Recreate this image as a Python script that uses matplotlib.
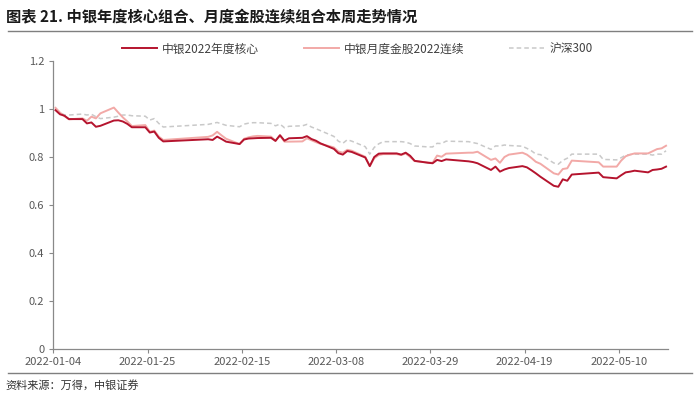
import pandas as pd
import matplotlib
matplotlib.use('Agg')
import matplotlib.pyplot as plt
import matplotlib.dates as mdates
from matplotlib.lines import Line2D
from matplotlib.ticker import FuncFormatter, MultipleLocator

plt.rcParams['font.family'] = ['Noto Sans CJK SC', 'DejaVu Sans']

# trading days (date axis, so the Spring Festival gap shows as a straight segment)
dates = (
    ['2022-01-%02d' % d for d in [4, 5, 6, 7, 10, 11, 12, 13, 14, 17, 18, 19, 20, 21, 24, 25, 26, 27, 28]]
    + ['2022-02-%02d' % d for d in [7, 8, 9, 10, 11, 14, 15, 16, 17, 18, 21, 22, 23, 24, 25, 28]]
    + ['2022-03-%02d' % d for d in [1, 2, 3, 4, 7, 8, 9, 10, 11, 14, 15, 16, 17, 18, 21, 22, 23, 24, 25,
                                    28, 29, 30, 31]]
    + ['2022-04-%02d' % d for d in [1, 6, 7, 8, 11, 12, 13, 14, 15, 18, 19, 20, 21, 22, 25, 26, 27, 28, 29]]
    + ['2022-05-%02d' % d for d in [5, 6, 9, 10, 11, 12, 13, 16, 17, 18, 19, 20]]
)

core = [
    0.995, 0.978, 0.972, 0.958, 0.958, 0.940, 0.944, 0.926, 0.930, 0.952, 0.953, 0.948, 0.938, 0.924,
    0.924, 0.902, 0.906, 0.880, 0.865,
    0.874, 0.871, 0.885, 0.875, 0.864, 0.854, 0.873, 0.877, 0.878, 0.879, 0.880, 0.867, 0.891, 0.868,
    0.878, 0.880,
    0.887, 0.875, 0.868, 0.857, 0.834, 0.816, 0.810, 0.825, 0.821, 0.798, 0.762, 0.800, 0.814, 0.815,
    0.815, 0.810, 0.818, 0.805, 0.784, 0.776, 0.774, 0.788, 0.783,
    0.790, 0.782, 0.779, 0.774, 0.746, 0.760, 0.739, 0.748, 0.754, 0.762, 0.757, 0.745, 0.732, 0.718,
    0.680, 0.676, 0.707, 0.701, 0.727,
    0.735, 0.716, 0.711, 0.724, 0.736, 0.739, 0.743, 0.736, 0.746, 0.748, 0.751, 0.760,
]

monthly = [
    1.005, 0.985, 0.970, 0.957, 0.961, 0.951, 0.968, 0.961, 0.982, 1.006, 0.985, 0.965, 0.948, 0.929,
    0.933, 0.905, 0.910, 0.885, 0.871,
    0.884, 0.890, 0.905, 0.890, 0.876, 0.854, 0.876, 0.882, 0.886, 0.888, 0.885, 0.868, 0.889, 0.864,
    0.864, 0.865,
    0.878, 0.870, 0.862, 0.855, 0.840, 0.823, 0.818, 0.830, 0.826, 0.801, 0.762, 0.795, 0.808, 0.812,
    0.812, 0.808, 0.815, 0.800, 0.783, 0.777, 0.776, 0.806, 0.801,
    0.814, 0.818, 0.818, 0.822, 0.788, 0.794, 0.776, 0.800, 0.810, 0.818, 0.810, 0.796, 0.780, 0.772,
    0.732, 0.727, 0.750, 0.753, 0.785,
    0.778, 0.760, 0.760, 0.785, 0.803, 0.810, 0.815, 0.815, 0.824, 0.833, 0.836, 0.847,
]

hs300 = [
    0.999, 0.985, 0.975, 0.975, 0.979, 0.975, 0.978, 0.968, 0.960, 0.966, 0.970, 0.975, 0.975, 0.972,
    0.970, 0.954, 0.960, 0.940, 0.925,
    0.936, 0.940, 0.944, 0.938, 0.932, 0.926, 0.937, 0.941, 0.943, 0.943, 0.940, 0.930, 0.937, 0.922,
    0.928, 0.930,
    0.936, 0.925, 0.918, 0.910, 0.886, 0.866, 0.857, 0.872, 0.866, 0.843, 0.812, 0.840, 0.855, 0.864,
    0.864, 0.864, 0.862, 0.856, 0.846, 0.842, 0.842, 0.857, 0.856,
    0.866, 0.864, 0.860, 0.856, 0.832, 0.846, 0.846, 0.850, 0.848, 0.845, 0.836, 0.826, 0.812, 0.810,
    0.775, 0.770, 0.786, 0.795, 0.812,
    0.812, 0.790, 0.788, 0.797, 0.808, 0.810, 0.812, 0.812, 0.808, 0.812, 0.812, 0.826,
]

names = ['中银2022年度核心', '中银月度金股2022连续', '沪深300']
tick_dates = ['2022-01-04', '2022-01-25', '2022-02-15', '2022-03-08', '2022-03-29', '2022-04-19', '2022-05-10']

# points sit in the middle of their day, like an Excel date axis
x = pd.to_datetime(dates) + pd.Timedelta(hours=12)

fig = plt.figure(figsize=(7, 3.98), dpi=100)
ax = fig.add_axes([0.0761, 0.1231, 0.8786, 0.7236])

ax.plot(x, hs300, color='#C9C9C9', lw=1.1, ls=(0, (3, 2)), label=names[2], zorder=2)
ax.plot(x, monthly, color='#F2A9A7', lw=1.4, label=names[1], zorder=3)
ax.plot(x, core, color='#B5142E', lw=1.4, label=names[0], zorder=4)

ax.set_xlim(pd.Timestamp('2022-01-04'), pd.Timestamp('2022-05-21'))
ax.set_ylim(0, 1.2)
ax.xaxis.set_major_locator(mdates.DayLocator())
ax.set_xticks(pd.to_datetime(tick_dates))
ax.xaxis.set_major_formatter(mdates.DateFormatter('%Y-%m-%d'))
ax.yaxis.set_major_locator(MultipleLocator(0.2))
ax.yaxis.set_major_formatter(FuncFormatter(lambda v, p: '%g' % round(v, 1)))

for s in ['top', 'right']:
    ax.spines[s].set_visible(False)
for s in ['left', 'bottom']:
    ax.spines[s].set_color('#898989')
    ax.spines[s].set_linewidth(0.9)
ax.tick_params(axis='both', colors='#898989', labelcolor='#595959', labelsize=8, length=3, width=0.8)
ax.tick_params(axis='x', pad=3)

handles, labels = ax.get_legend_handles_labels()
order = [2, 1, 0]
fig.legend([handles[i] for i in order], [labels[i] for i in order], loc='center',
           bbox_to_anchor=(0.51, 0.877), ncol=3, frameon=False, fontsize=8.5,
           handlelength=3.0, handletextpad=0.4, columnspacing=3.8, labelcolor='#404040')

fig.text(0.008, 0.955, '图表 21. 中银年度核心组合、月度金股连续组合本周走势情况', fontsize=11,
         fontweight='bold', color='#1a1a1a', va='center', ha='left')
fig.add_artist(Line2D([0.012, 0.988], [0.922, 0.922], color='#7F7F7F', lw=1.0))
fig.add_artist(Line2D([0.012, 0.988], [0.064, 0.064], color='#7F7F7F', lw=1.0))
fig.text(0.008, 0.032, '资料来源：万得，中银证券', fontsize=8, color='#333333', va='center', ha='left')

fig.savefig('out.png', dpi=100)
